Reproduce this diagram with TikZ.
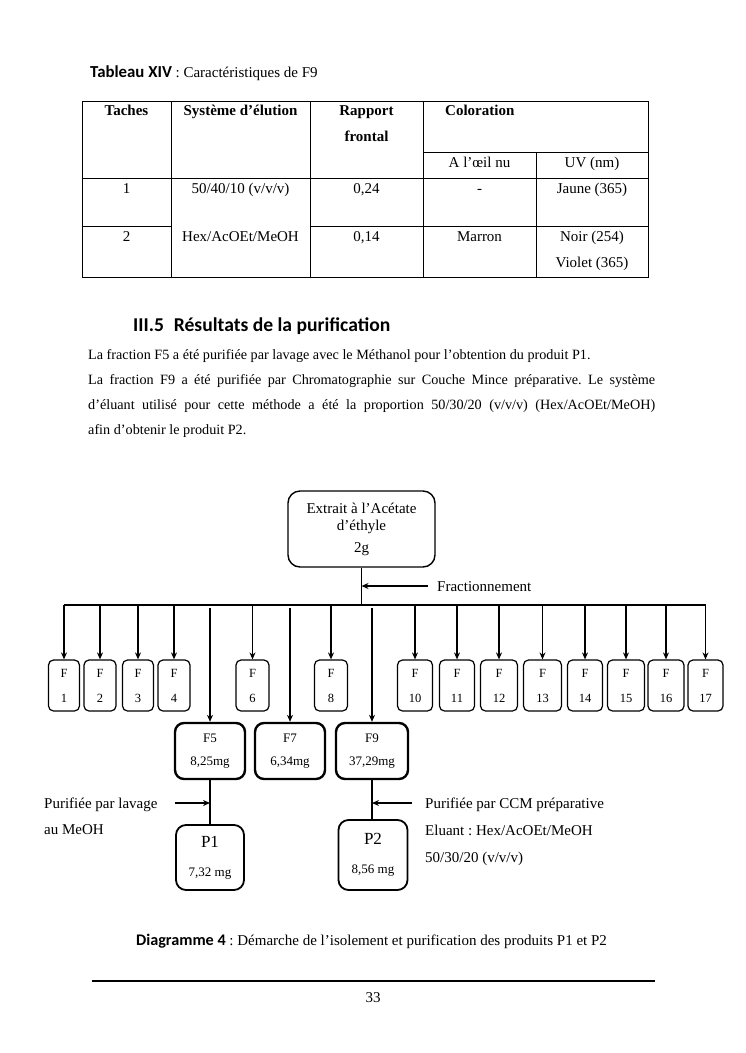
\documentclass[tikz,border=0pt]{standalone}
\usepackage{fontspec}
\setmainfont{Liberation Serif}
\newfontfamily\calibri{Carlito}
\usetikzlibrary{arrows.meta, positioning, calc}
\frenchspacing

\begin{document}
\begin{tikzpicture}[x=1pt, y=-1pt, >=Stealth, font=\fontsize{15}{18}\selectfont,
  txt/.style={inner sep=0pt, anchor=base},
  gras/.style={txt, font=\fontsize{15}{18}\selectfont\bfseries},
  corps/.style={txt, anchor=base west, font=\fontsize{14.2}{18}\selectfont},
  petit/.style={draw, rounded corners=5pt, line width=1.2pt, minimum height=51pt, inner sep=0pt, font=\fontsize{12.5}{25}\selectfont, align=center},
  epais/.style={draw, rounded corners=9pt, line width=2.4pt, minimum height=56pt, inner sep=0pt, font=\fontsize{13}{23}\selectfont, align=center},
  produit/.style={draw, rounded corners=10pt, line width=1.8pt, inner sep=0pt, font=\fontsize{13}{16}\selectfont, align=center},
  fleche/.style={-{Stealth[length=7pt, width=6pt]}, line width=1.8pt}]
  \useasboundingbox (0,0) rectangle (745,1053);

  % Tableau XIV
  \node[txt, anchor=base west] (titre) at (90,77) {{\calibri\bfseries\fontsize{16.8}{18}\selectfont Tableau XIV} : Caractéristiques de F9};
  \draw[line width=0.8pt] (82,101) rectangle (648,277);
  \draw[line width=0.8pt] (171,101) -- (171,277) (310,101) -- (310,277) (423,101) -- (423,277);
  \draw[line width=0.8pt] (423,152) -- (648,152) (536,152) -- (536,277);
  \draw[line width=0.8pt] (82,178) -- (648,178);
  \draw[line width=0.8pt] (82,226) -- (171,226) (310,226) -- (648,226);
  \node[gras] (taches) at (126.5,115) {Taches};
  \node[gras] (systeme) at (240.5,115) {Système d’élution};
  \node[gras] (rapport) at (366.5,115) {Rapport};
  \node[gras] (frontal) at (366.5,141) {frontal};
  \node[gras, anchor=base west] (coloration) at (445,115) {Coloration};
  \node[txt] (oeil) at (479.5,167) {A l’œil nu};
  \node[txt] (uv) at (592,167) {UV (nm)};
  \node[txt] (t1) at (126.5,193) {1};
  \node[txt] (s1) at (240.5,193) {50/40/10 (v/v/v)};
  \node[txt] (r1) at (366.5,193) {0,24};
  \node[txt] (o1) at (479.5,193) {-};
  \node[txt] (u1) at (592,193) {Jaune (365)};
  \node[txt] (t2) at (126.5,241) {2};
  \node[txt] (s2) at (240.5,241) {Hex/AcOEt/MeOH};
  \node[txt] (r2) at (366.5,241) {0,14};
  \node[txt] (o2) at (479.5,241) {Marron};
  \node[txt] (u2) at (592,241) {Noir (254)};
  \node[txt] (u3) at (592,267) {Violet (365)};

  % III.5
  \node[txt, anchor=base west] (section) at (133,331) {\calibri\bfseries\fontsize{19.6}{22}\selectfont III.5\enspace Résultats de la purification};
  \node[corps] (l1) at (88,359) {La fraction F5 a été purifiée par lavage avec le Méthanol pour l’obtention du produit P1.};
  \node[corps] (l2) at (88,384) {\makebox[567pt][s]{La fraction F9 a été purifiée par Chromatographie sur Couche Mince préparative. Le système}};
  \node[corps] (l3) at (88,409) {\makebox[567pt][s]{d’éluant utilisé pour cette méthode a été la proportion 50/30/20 (v/v/v) (Hex/AcOEt/MeOH)}};
  \node[corps] (l4) at (88,434) {afin d’obtenir le produit P2.};

  % Diagramme 4
  \node[draw, rounded corners=12pt, line width=1.4pt, minimum width=147pt, minimum height=76pt, inner sep=0pt, align=center, font=\fontsize{15}{17}\selectfont] (extrait) at (361.5,529) {Extrait à l’Acétate\\d’éthyle\\[5pt]2g};
  \coordinate (bar) at (361.5,605);
  \draw[line width=1.8pt] (extrait) -- (bar);
  \node[txt, anchor=base west] (fract) at (437,591) {Fractionnement};
  \coordinate (fr) at (428,586);
  \draw[fleche] (fr) -- (fr -| extrait);

  \node[petit, minimum width=31pt] (f1) at (64,685.5) {F\\1};
  \node[petit, minimum width=32pt] (f2) at (100,685.5) {F\\2};
  \node[petit, minimum width=31pt] (f3) at (138,685.5) {F\\3};
  \node[petit, minimum width=32pt] (f4) at (174,685.5) {F\\4};
  \node[petit, minimum width=33pt] (f6) at (252.5,685.5) {F\\6};
  \node[petit, minimum width=33pt] (f8) at (331,685.5) {F\\8};
  \node[petit, minimum width=35pt] (f10) at (415,685.5) {F\\10};
  \node[petit, minimum width=35pt] (f11) at (457,685.5) {F\\11};
  \node[petit, minimum width=37pt] (f12) at (499,685.5) {F\\12};
  \node[petit, minimum width=38pt] (f13) at (542.5,685.5) {F\\13};
  \node[petit, minimum width=35pt] (f14) at (585,685.5) {F\\14};
  \node[petit, minimum width=37pt] (f15) at (626,685.5) {F\\15};
  \node[petit, minimum width=36pt] (f16) at (666,685.5) {F\\16};
  \node[petit, minimum width=35pt] (f17) at (705.5,685.5) {F\\17};
  \draw[line width=1.8pt] (f1.north |- bar) -- (f17.north |- bar);
  \foreach \f in {f1,f2,f3,f4,f6,f8,f10,f11,f12,f13,f14,f15,f16,f17}
    \draw[fleche] (\f.north |- bar) -- (\f.north);

  \node[epais, minimum width=70pt] (f5) at (210,751) {F5\\8,25mg};
  \node[epais, minimum width=70pt] (f7) at (290,751) {F7\\6,34mg};
  \node[epais, minimum width=72pt] (f9) at (372,751) {F9\\37,29mg};
  \foreach \f in {f5,f7,f9}
    \draw[fleche] ($(\f.north |- bar)+(0,3)$) -- (\f.north);

  \node[produit, minimum width=68pt, minimum height=65pt] (p1) at (210,857.5) {{\fontsize{17}{20}\selectfont P1}\\[13pt]7,32 mg};
  \node[produit, minimum width=69pt, minimum height=70pt] (p2) at (373,855) {{\fontsize{17}{20}\selectfont P2}\\[13pt]8,56 mg};
  \draw[line width=1.8pt] (f5.south) -- (f5.south |- p1.north);
  \draw[line width=1.8pt] (f9.south) -- (f9.south |- p2.north);

  \coordinate (g1) at (175,803);
  \draw[fleche] (g1) -- (g1 -| f5);
  \node[txt, anchor=base west] (lavage) at (44,808) {Purifiée par lavage};
  \node[txt, anchor=base west] (meoh) at (44,834) {au MeOH};
  \coordinate (g2) at (412,803);
  \draw[fleche] (g2) -- (g2 -| f9);
  \node[txt, anchor=base west] (ccm) at (425,808) {Purifiée par CCM préparative};
  \node[txt, anchor=base west] (eluant) at (425,835) {Eluant : Hex/AcOEt/MeOH};
  \node[txt, anchor=base west] (prop) at (425,862) {50/30/20 (v/v/v)};

  \node[txt] (legende) at (371.5,945) {{\calibri\bfseries\fontsize{16.2}{18}\selectfont Diagramme 4} : Démarche de l’isolement et purification des produits P1 et P2};
  \draw[line width=1.8pt] (92,981) -- (655,981);
  \node[txt] (page) at (373,1002) {33};
\end{tikzpicture}
\end{document}
